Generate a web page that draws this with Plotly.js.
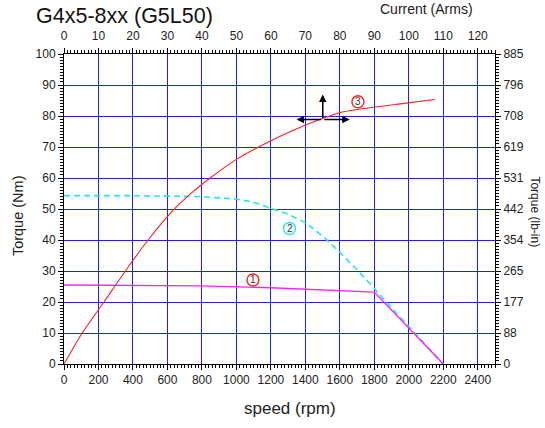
<!DOCTYPE html>
<html>
<head>
<meta charset="utf-8">
<script src="https://cdn.plot.ly/plotly-3.0.1.min.js"></script>
<style>html,body{margin:0;padding:0;background:#fff;}#chart{width:545px;height:428px;}</style>
</head>
<body>
<div id="chart"></div>
<script>
// Continuous torque curve (1) : speed (rpm) vs torque (Nm)
const speedCont = [0, 400, 800, 1200, 1500, 1800, 2200];
const torqueCont = [25.5, 25.4, 25.2, 24.6, 23.9, 23.2, 0];

// Peak torque curve (2) : speed (rpm) vs torque (Nm)
const speedPeak = [0, 400, 800, 1000, 1100, 1200, 1300, 1400, 1500, 1600, 1700, 1800, 1815, 2200];
const torquePeak = [54.3, 54.3, 54.0, 53.2, 52.2, 50.3, 48.3, 45.6, 41.3, 36.0, 30.4, 24.4, 23.3, 0];

// Torque vs current curve (3) : current (Arms) vs torque (Nm)
const currentKt = [0, 5.3, 11.6, 17.8, 24.4, 31.4, 37, 42.4, 50, 57, 63, 69, 75, 80.5, 90, 98, 107.5];
const torqueKt = [0, 10, 20, 30, 40, 49.3, 55.2, 60, 66, 70.3, 73.6, 76.6, 79.2, 81.2, 82.9, 84, 85.3];

// Right axis (lb-in) tick positions and labels
const lbinTicks = [0, 88.5, 177, 265.5, 354, 442.5, 531, 619.5, 708, 796.5, 885];
const lbinLabels = ['0', '88', '177', '265', '354', '442', '531', '619', '708', '796', '885'];

const FONT = 'Liberation Sans, Arial, sans-serif';
const GRID = 'rgb(30,30,255)';

const traces = [
  {x: speedPeak, y: torquePeak, xaxis: 'x', yaxis: 'y', mode: 'lines',
   line: {color: '#22e5f0', width: 1.6, dash: '6px,4px'}, hoverinfo: 'skip'},
  {x: speedCont, y: torqueCont, xaxis: 'x', yaxis: 'y', mode: 'lines',
   line: {color: '#ff22ff', width: 1.4}, hoverinfo: 'skip'},
  {x: currentKt, y: torqueKt, xaxis: 'x2', yaxis: 'y', mode: 'lines',
   line: {color: '#ff2020', width: 1.1, shape: 'spline', smoothing: 0.6}, hoverinfo: 'skip'},
  {x: [], y: [], xaxis: 'x', yaxis: 'y2', mode: 'lines', hoverinfo: 'skip'}
];

const axBase = {
  showline: true, linecolor: 'black', linewidth: 1, zeroline: false,
  ticks: 'outside', ticklen: 5, tickcolor: 'black', tickwidth: 1,
  tickfont: {family: FONT, size: 12, color: '#222'}
};
function circ(x, y, color) {
  return {type: 'circle', xref: 'x', yref: 'y', xsizemode: 'pixel', ysizemode: 'pixel',
    xanchor: x, yanchor: y, x0: -6, x1: 6, y0: -6, y1: 6, line: {color: color, width: 1.4}};
}
function num(x, y, t) {
  return {xref: 'x', yref: 'y', x: x, y: y, text: t, showarrow: false,
    font: {family: FONT, size: 10, color: '#333'}};
}
function arrow(x, y, ax, ay) {
  return {xref: 'x', yref: 'y', x: x, y: y, axref: 'x', ayref: 'y', ax: ax, ay: ay, text: '',
    showarrow: true, arrowhead: 2, arrowsize: 1, arrowwidth: 1.5, arrowcolor: 'black', standoff: 0, startstandoff: 0};
}
const layout = {
  width: 545, height: 428,
  margin: {l: 64, r: 50, t: 54, b: 64},
  paper_bgcolor: 'white', plot_bgcolor: 'white',
  showlegend: false,
  font: {family: FONT, size: 12, color: '#222'},
  xaxis: Object.assign({}, axBase, {
    range: [0, 2500], tick0: 0, dtick: 200,
    showgrid: true, gridcolor: GRID, gridwidth: 1,
    minor: {tick0: 0, dtick: 20, ticks: 'outside', ticklen: 3, tickcolor: 'black', showgrid: false}
  }),
  xaxis2: Object.assign({}, axBase, {
    overlaying: 'x', side: 'top', anchor: 'y',
    range: [0, 125], tick0: 0, dtick: 10, showgrid: false, ticklabelstandoff: 3,
    minor: {tick0: 0, dtick: 1, ticks: 'outside', ticklen: 3, tickcolor: 'black', showgrid: false}
  }),
  yaxis: Object.assign({}, axBase, {
    range: [0, 100], tick0: 0, dtick: 10,
    showgrid: true, gridcolor: GRID, gridwidth: 1,
    minor: {tick0: 0, dtick: 1, ticks: 'outside', ticklen: 3, tickcolor: 'black', showgrid: false}
  }),
  yaxis2: Object.assign({}, axBase, {
    overlaying: 'y', side: 'right', anchor: 'x',
    range: [0, 885], tickmode: 'array', tickvals: lbinTicks, ticktext: lbinLabels, showgrid: false,
    minor: {tickmode: 'linear', tick0: 0, dtick: 8.85, ticks: 'outside', ticklen: 3, tickcolor: 'black', showgrid: false}
  }),
  shapes: [circ(1096, 27.1, '#ff2020'), circ(1308, 43.7, '#22e5f0'), circ(1705, 84.6, '#ff2020')],
  annotations: [
    num(1096, 27.1, '1'), num(1308, 43.7, '2'), num(1705, 84.6, '3'),
    arrow(1349, 78.9, 1501, 78.9), arrow(1657, 78.9, 1501, 78.9), arrow(1501, 86.9, 1501, 78.9),
    {xref: 'paper', yref: 'paper', x: -0.067, y: 1.122, xanchor: 'left', yanchor: 'middle', borderpad: 0,
     text: 'G4x5-8xx (G5L50)', showarrow: false, font: {family: FONT, size: 21.5, color: '#111'}},
    {xref: 'paper', yref: 'paper', x: 0.842, y: 1.145, xanchor: 'center', yanchor: 'middle',
     text: 'Current (Arms)', showarrow: false, font: {family: FONT, size: 14, color: '#222'}},
    {xref: 'paper', yref: 'paper', x: 0.524, y: -0.145, xanchor: 'center', yanchor: 'middle',
     text: 'speed (rpm)', showarrow: false, font: {family: FONT, size: 17, color: '#222'}},
    {xref: 'paper', yref: 'paper', x: -0.107, y: 0.48, xanchor: 'center', yanchor: 'middle',
     text: 'Torque (Nm)', textangle: -90, showarrow: false, font: {family: FONT, size: 14.5, color: '#222'}},
    {xref: 'paper', yref: 'paper', x: 1.092, y: 0.49, xanchor: 'center', yanchor: 'middle',
     text: 'Torque (lb-in)', textangle: 90, showarrow: false, font: {family: FONT, size: 12, color: '#222'}}
  ]
};
Plotly.newPlot('chart', traces, layout, {staticPlot: true, displayModeBar: false});
</script>
</body>
</html>
